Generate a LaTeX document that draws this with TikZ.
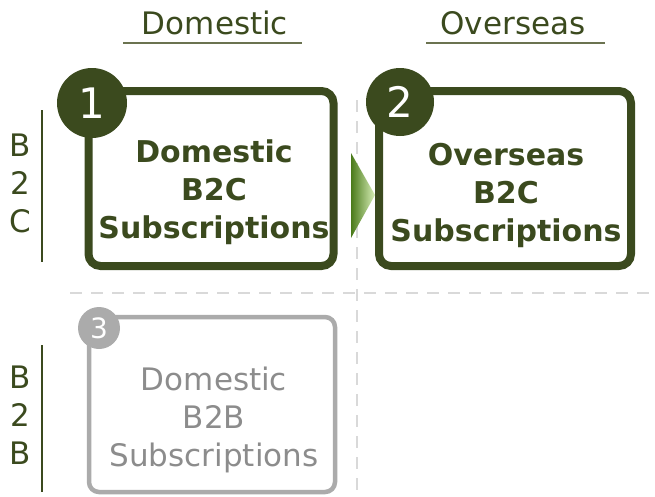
\documentclass[tikz,border=0pt]{standalone}
\usepackage{fontspec}
\setmainfont{DejaVu Sans}
\usetikzlibrary{shapes.geometric}
\definecolor{olive}{HTML}{3B4A1E}
\definecolor{rule}{HTML}{6B7350}
\definecolor{boxgray}{HTML}{ABABAB}
\definecolor{textgray}{HTML}{8C8C8C}
\definecolor{dashgray}{HTML}{D9D9D9}
\definecolor{arrowdark}{HTML}{4A7A1A}
\definecolor{arrowlight}{HTML}{D8EFB8}
\tikzset{
  heading/.style={font=\fontsize{31}{34}\selectfont, text=olive, inner sep=0pt},
  sidelabel/.style={font=\fontsize{31}{38}\selectfont, text=olive, align=center, inner sep=0pt},
  activebox/.style={draw=olive, line width=8pt, rounded corners=12pt},
  mutedbox/.style={draw=boxgray, line width=4.5pt, rounded corners=10pt},
  activetext/.style={font=\bfseries\fontsize{30}{38}\selectfont, text=olive, align=center, inner sep=0pt},
  mutedtext/.style={font=\fontsize{31}{38}\selectfont, text=textgray, align=center, inner sep=0pt},
  badge/.style={circle, fill=olive, text=white, inner sep=0pt, font=\fontsize{42}{42}\selectfont},
  mutedbadge/.style={circle, fill=boxgray, text=white, inner sep=0pt, font=\fontsize{28}{28}\selectfont},
  grid/.style={draw=dashgray, line width=2pt, dash pattern=on 12pt off 9pt},
  underline/.style={draw=rule, line width=1.6pt}
}
\begin{document}
\begin{tikzpicture}[x=1pt,y=-1pt]
\useasboundingbox (0,0) rectangle (655,496);

% quadrant separators
\coordinate (vtop) at (357,100);
\coordinate (vbot) at (357,496);
\coordinate (hleft) at (70,293);
\coordinate (hright) at (655,293);
\draw[grid] (vtop) -- (vbot);
\draw[grid] (hleft) -- (hright);

% column headings
\node[heading] (domhead) at (215,23) {Domestic};
\node[heading] (ovshead) at (513,23) {Overseas};
\coordinate (dl) at (123,43); \coordinate (dr) at (302,43);
\coordinate (ol) at (426,43); \coordinate (or) at (605,43);
\draw[underline] (dl) -- (dr);
\draw[underline] (ol) -- (or);

% row labels
\node[sidelabel] (b2c) at (20,183) {B\\2\\C};
\node[sidelabel] (b2b) at (20,415) {B\\2\\B};
\coordinate (r1t) at (42,110); \coordinate (r1b) at (42,262);
\coordinate (r2t) at (42,345); \coordinate (r2b) at (42,492);
\draw[olive, line width=1.3pt] (r1t) -- (r1b);
\draw[olive, line width=1.3pt] (r2t) -- (r2b);

% quadrant 1
\draw[activebox] (88.5,91) rectangle (333.5,266);
\node[activetext] (q1) at (214,192) {Domestic\\B2C\\Subscriptions};
\node[badge, minimum size=70pt] (n1) at (92,103) {1};

% quadrant 2
\draw[activebox] (379,91) rectangle (631,266);
\node[activetext] (q2) at (506,195) {Overseas\\B2C\\Subscriptions};
\node[badge, minimum size=68pt] (n2) at (400,102) {2};

% transition arrow
\shade[left color=arrowdark, right color=arrowlight]
  (351,153) -- (375,195) -- (351,238) -- cycle;

% quadrant 3
\draw[mutedbox] (89,317) rectangle (335,492);
\node[mutedtext] (q3) at (214,420) {Domestic\\B2B\\Subscriptions};
\node[mutedbadge, minimum size=42pt] (n3) at (99,328) {3};
\end{tikzpicture}
\end{document}
